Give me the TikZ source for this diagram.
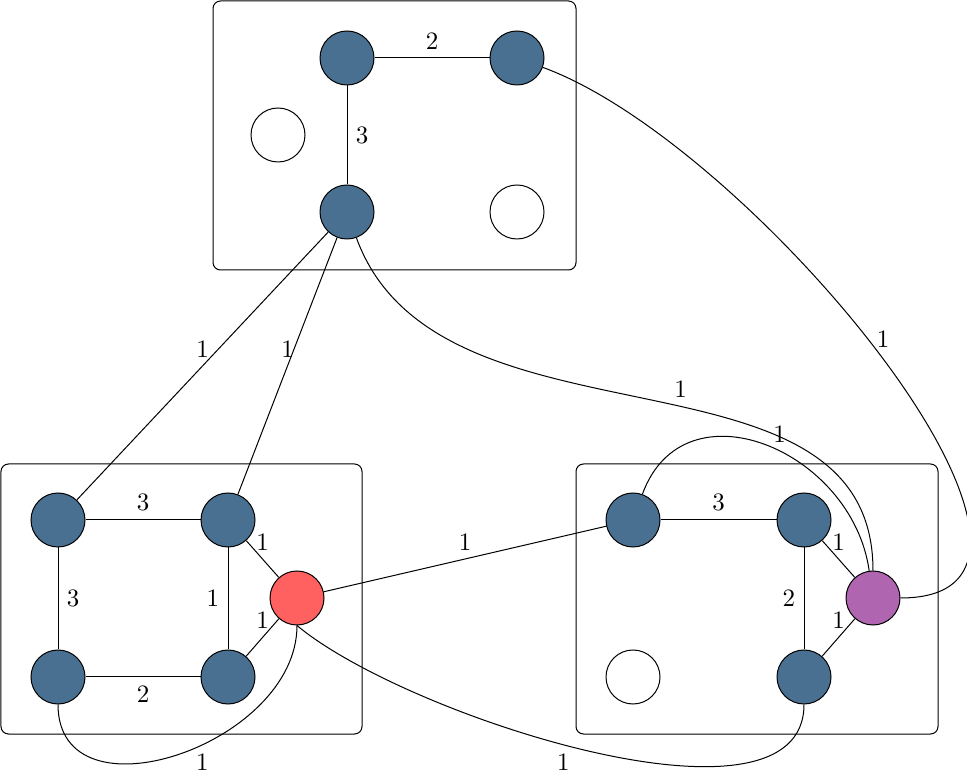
\documentclass[tikz,border=0pt]{standalone}
\usepackage{tikz}
\definecolor{nodeblue}{RGB}{74,112,145}
\definecolor{nodered}{RGB}{255,97,97}
\definecolor{nodepurple}{RGB}{176,101,176}
\begin{document}
\begin{tikzpicture}[x=0.4pt,y=-0.4pt]
	\useasboundingbox (0,0) rectangle (967,778);
	% groups
	\draw[rounded corners=3pt] (213,1) rectangle (576,270);
	\draw[rounded corners=3pt] (1,464) rectangle (362,734);
	\draw[rounded corners=3pt] (576,464) rectangle (938,734);

	\begin{scope}[every node/.style={circle,draw,minimum size=21.6pt,inner sep=0pt}]
		\node[fill=nodeblue] (t1) at (347,58) {};
		\node[fill=nodeblue] (t2) at (517,58) {};
		\node (t3) at (278,135) {};
		\node[fill=nodeblue] (t4) at (347,212) {};
		\node (t5) at (517,212) {};

		\node[fill=nodeblue] (l1) at (58,520) {};
		\node[fill=nodeblue] (l2) at (228,520) {};
		\node[fill=nodeblue] (l3) at (58,677) {};
		\node[fill=nodeblue] (l4) at (228,677) {};
		\node[fill=nodered] (r) at (297,598) {};

		\node[fill=nodeblue] (b1) at (633,520) {};
		\node[fill=nodeblue] (b2) at (804,520) {};
		\node (b3) at (633,677) {};
		\node[fill=nodeblue] (b4) at (804,677) {};
		\node[fill=nodepurple] (p) at (873,598) {};
	\end{scope}

	\begin{scope}[every edge/.style={draw=black}]
		\path (t1) edge node [above] {2} (t2);
		\path (t1) edge node [right] {3} (t4);
		\path (t4) edge node [above] {1} (l1);
		\path (t4) edge node [above] {1} (l2);
		\path (t4) edge [out=-70,in=90] node [pos=0.55,above] {1} (p);
		\path (t2) edge [out=-20,in=0,looseness=0.9] node [pos=0.47,right] {1} (p);

		\path (l1) edge node [above] {3} (l2);
		\path (l1) edge node [right] {3} (l3);
		\path (l2) edge node [left] {1} (l4);
		\path (l3) edge node [below] {2} (l4);
		\path (l2) edge node [above] {1} (r);
		\path (l4) edge node [above] {1} (r);
		\path (l3) edge [out=-90,in=-90,looseness=1.22] node [pos=0.57,below] {1} (r);

		\path (r) edge node [above] {1} (b1);
		\path (r.south) edge [out=-40,in=-90,looseness=0.7] node [pos=0.46,below] {1} (b4);

		\path (b1) edge node [above] {3} (b2);
		\path (b2) edge node [left] {2} (b4);
		\path (b2) edge node [above] {1} (p);
		\path (b4) edge node [above] {1} (p);
		\path (b1) edge [out=70,in=98,looseness=1.3] node [pos=0.55,above] {1} (p);
	\end{scope}
\end{tikzpicture}
\end{document}
